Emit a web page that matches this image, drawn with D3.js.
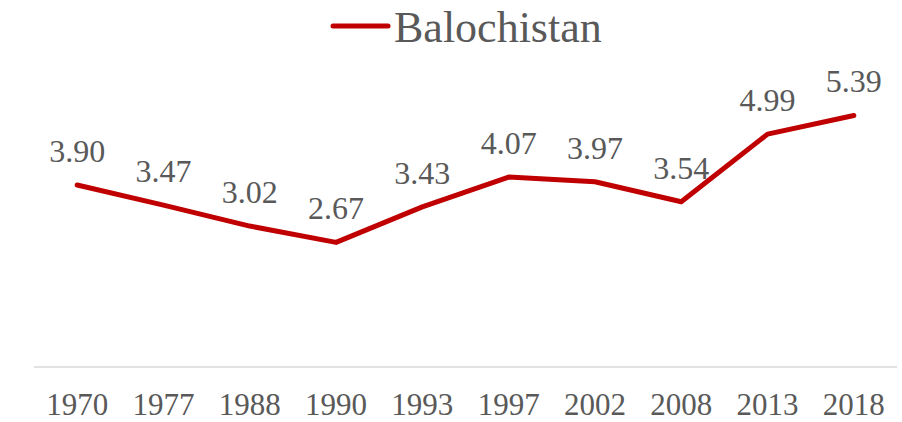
<!DOCTYPE html>
<html>
<head>
<meta charset="utf-8">
<script src="https://cdn.jsdelivr.net/npm/d3@7"></script>
<style>
  body { margin: 0; background: #fff; }
  text { font-family: "Liberation Serif", serif; fill: #595959; }
</style>
</head>
<body>
<div id="chart"></div>
<script>
const width = 902;
const height = 422;

const years = ["1970", "1977", "1988", "1990", "1993", "1997", "2002", "2008", "2013", "2018"];
const values = [3.90, 3.47, 3.02, 2.67, 3.43, 4.07, 3.97, 3.54, 4.99, 5.39];
const seriesName = "Balochistan";

const data = years.map((y, i) => ({ year: y, value: values[i] }));

const svg = d3.select("#chart").append("svg")
  .attr("width", width)
  .attr("height", height);

const x = d3.scaleBand()
  .domain(years)
  .range([34, 897]);

const y = d3.scaleLinear()
  .domain([0, 6])
  .range([367, 87]);

const cx = d => x(d.year) + x.bandwidth() / 2;

// baseline
svg.append("line")
  .attr("x1", 34).attr("x2", 897)
  .attr("y1", y(0)).attr("y2", y(0))
  .attr("stroke", "#d9d9d9")
  .attr("stroke-width", 1.5);

// category labels
svg.selectAll("text.year")
  .data(years)
  .join("text")
  .attr("class", "year")
  .attr("x", d => x(d) + x.bandwidth() / 2)
  .attr("y", 415)
  .attr("text-anchor", "middle")
  .attr("font-size", "31px")
  .text(d => d);

// line
const line = d3.line()
  .x(cx)
  .y(d => y(d.value));

svg.append("path")
  .datum(data)
  .attr("d", line)
  .attr("fill", "none")
  .attr("stroke", "#c00000")
  .attr("stroke-width", 5)
  .attr("stroke-linejoin", "round")
  .attr("stroke-linecap", "round");

// value labels
svg.selectAll("text.value-label")
  .data(data)
  .join("text")
  .attr("class", "value-label")
  .attr("x", cx)
  .attr("y", d => y(d.value) - 23)
  .attr("text-anchor", "middle")
  .attr("font-size", "32px")
  .text(d => d.value.toFixed(2));

// legend
const legend = svg.append("g").attr("transform", "translate(333, 26)");
legend.append("line")
  .attr("x1", 0).attr("x2", 55)
  .attr("y1", 0).attr("y2", 0)
  .attr("stroke", "#c00000")
  .attr("stroke-width", 5)
  .attr("stroke-linecap", "round");
legend.append("text")
  .attr("x", 61)
  .attr("y", 16)
  .attr("font-size", "44px")
  .text(seriesName);
</script>
</body>
</html>
